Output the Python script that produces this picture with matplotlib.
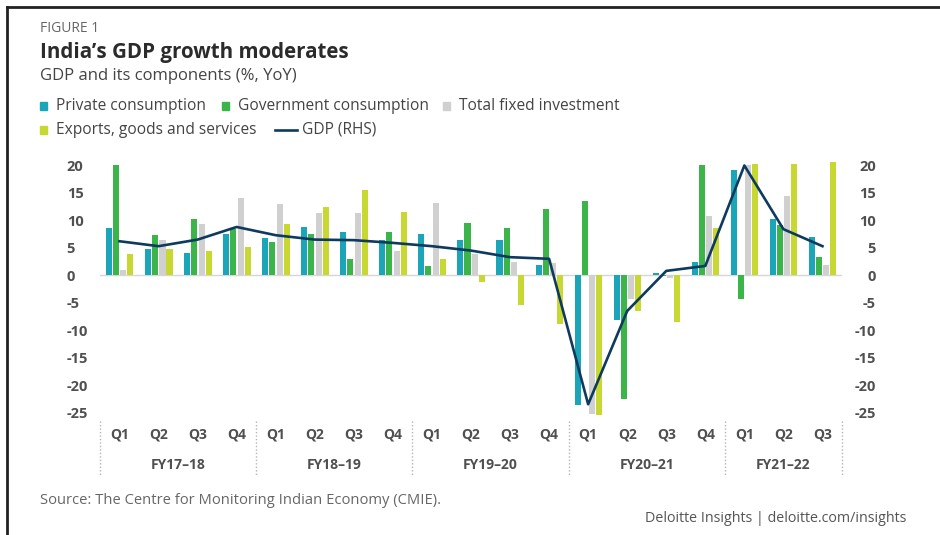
import numpy as np
import matplotlib
matplotlib.use("Agg")
import matplotlib.pyplot as plt
from matplotlib.patches import Rectangle
from matplotlib.lines import Line2D

plt.rcParams['font.family'] = ['Open Sans', 'DejaVu Sans']

# data (% YoY)
quarters = ['Q1', 'Q2', 'Q3', 'Q4'] * 4 + ['Q1', 'Q2', 'Q3']
fiscal_years = ['FY17–18', 'FY18–19', 'FY19–20', 'FY20–21', 'FY21–22']
private_cons = [8.6, 4.8, 4.1, 7.5, 6.7, 8.8, 7.8, 6.5, 7.5, 6.4, 6.4, 1.9,
                -23.6, -8.2, 0.5, 2.5, 19.2, 10.2, 7.0]
govt_cons = [20.0, 7.3, 10.3, 8.4, 6.1, 7.5, 3.0, 7.9, 1.7, 9.5, 8.7, 12.1,
             13.5, -22.6, -0.2, 20.0, -4.4, 9.1, 3.3]
fixed_inv = [0.9, 6.4, 9.3, 14.1, 12.9, 11.3, 11.3, 4.4, 13.2, 3.8, 2.4, 2.2,
             -25.2, -4.4, -0.5, 10.8, 20.0, 14.5, 1.8]
exports = [3.8, 4.7, 4.4, 5.1, 9.4, 12.4, 15.6, 11.6, 2.9, -1.3, -5.4, -8.8,
           -25.5, -6.5, -8.5, 8.7, 20.2, 20.3, 20.6]
gdp = [6.2, 5.3, 6.5, 8.8, 7.3, 6.5, 6.4, 5.9, 5.3, 4.5, 3.3, 3.0,
       -23.5, -6.5, 0.8, 1.7, 20.0, 8.4, 5.3]
yticks = [20, 15, 10, 5, 0, -5, -10, -15, -20, -25]

series = [
    ('Private consumption', private_cons, '#1aa5b8'),
    ('Government consumption', govt_cons, '#3bb44a'),
    ('Total fixed investment', fixed_inv, '#d0d0d0'),
    ('Exports, goods and services', exports, '#c8d832'),
]
line_col = '#0f3a5f'
txt_col = '#505050'

W, H = 940, 535
fig = plt.figure(figsize=(W / 100, H / 100), dpi=100)


def fx(px):
    return px / W


def fy(py):
    return 1 - py / H


# axes placement (pixels of the reference)
ax = fig.add_axes([fx(100), fy(418), fx(842) - fx(100), fy(160) - fy(418)])
x = np.arange(len(quarters))
offsets = [-0.27, -0.09, 0.10, 0.28]
for (name, vals, col), off in zip(series, offsets):
    ax.bar(x + off, vals, width=0.155, color=col, label=name, zorder=2)
ax.axhline(0, color='#d6d6d6', lw=1, zorder=1)
ax.set_xlim(-0.5, len(quarters) - 0.5)
ax.set_ylim(-26, 21)
ax.set_yticks(yticks)
ax.set_yticklabels([str(t) for t in yticks])
ax.tick_params(axis='y', length=0, pad=24, labelsize=10.5, labelcolor=txt_col)
for lab in ax.get_yticklabels():
    lab.set_horizontalalignment('left')
    lab.set_fontweight('bold')
ax.set_xticks(x)
ax.set_xticklabels(quarters, fontweight='bold', fontsize=10, color=txt_col)
ax.tick_params(axis='x', length=0, pad=7)
for s in ax.spines.values():
    s.set_visible(False)

ax2 = ax.twinx()
ax2.plot(x, gdp, color=line_col, lw=1.9, zorder=3)
ax2.set_ylim(ax.get_ylim())
ax2.set_yticks(yticks)
ax2.set_yticklabels([str(t) for t in yticks])
ax2.tick_params(axis='y', length=0, pad=24.5, labelsize=10.5, labelcolor=txt_col)
for lab in ax2.get_yticklabels():
    lab.set_horizontalalignment('right')
    lab.set_fontweight('bold')
for s in ax2.spines.values():
    s.set_visible(False)

# fiscal-year labels and dotted separators
xt = ax.get_xaxis_transform()
starts = [0, 4, 8, 12, 16]
ends = [4, 8, 12, 16, len(quarters)]
for lab, a, b in zip(fiscal_years, starts, ends):
    ax.text((a + b - 1) / 2, -0.183, lab, transform=xt, ha='center', va='center',
            fontsize=10, fontweight='bold', color=txt_col)
for sep in [-0.5, 3.5, 7.5, 11.5, 15.5, len(quarters) - 0.5]:
    ax.plot([sep, sep], [-0.01, -0.222], transform=xt, color='#b5b5b5',
            lw=1, ls=(0, (1, 1.5)), clip_on=False)

# titles
fig.text(fx(40), fy(28), 'FIGURE 1', fontsize=10, color='#666666', va='center')
fig.text(fx(40), fy(52), 'India’s GDP growth moderates', fontsize=14.8,
         fontweight='bold', color='#2b2b2b', va='center')
fig.text(fx(40), fy(76), 'GDP and its components (%, YoY)', fontsize=12,
         color='#444444', va='center')

# legend drawn by hand to keep the two-row layout
legend_items = [
    (40, 106, 0), (222, 106, 1), (443, 106, 2), (40, 130, 3),
]
for px, py, i in legend_items:
    name, _, col = series[i]
    fig.patches.append(Rectangle((fx(px), fy(py + 3.5)), fx(7), fy(0) - fy(7),
                                 transform=fig.transFigure, color=col))
    fig.text(fx(px + 16), fy(py), name, fontsize=11.2, color='#444444', va='center')
fig.lines.append(Line2D([fx(275), fx(297)], [fy(130), fy(130)], color=line_col,
                        lw=1.9, transform=fig.transFigure))
fig.text(fx(302), fy(130), 'GDP (RHS)', fontsize=11.2, color='#444444', va='center')

# footer
fig.text(fx(40), fy(500), 'Source: The Centre for Monitoring Indian Economy (CMIE).',
         fontsize=10.6, color='#666666', va='center')
fig.text(fx(906), fy(519), 'Deloitte Insights | deloitte.com/insights',
         fontsize=10.3, color='#555555', va='center', ha='right')

# frame lines of the screenshot
fig.lines.append(Line2D([fx(7), 1], [fy(7), fy(7)], color='#222222', lw=2,
                        transform=fig.transFigure))
fig.lines.append(Line2D([fx(7), fx(7)], [fy(7), 0], color='#222222', lw=2,
                        transform=fig.transFigure))

fig.savefig('out.png', dpi=100)
